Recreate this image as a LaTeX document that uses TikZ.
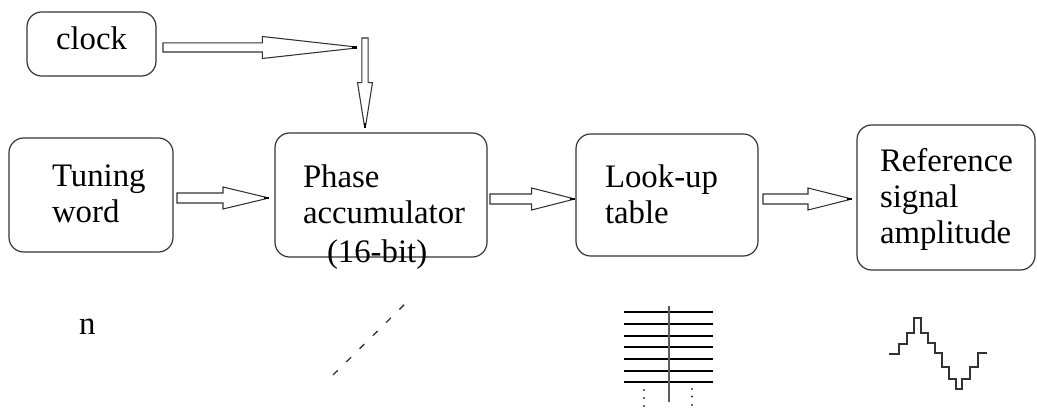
\documentclass[tikz,border=0pt]{standalone}
\usepackage{fontspec}
\setmainfont{Liberation Serif}
\newfontfamily\tnr{Liberation Serif}
\usetikzlibrary{calc}
\definecolor{edge}{HTML}{333333}
\tikzset{
  box/.style={draw=edge, line width=0.9pt, rounded corners=11pt, inner sep=0pt, outer sep=0pt},
  lbl/.style={inner sep=0pt, outer sep=0pt, align=left, font=\tnr\fontsize{24.6}{27}\selectfont},
  blk/.style={draw=edge, line width=0.8pt, fill=white, line join=miter},
  tipl/.style={draw=black, line width=1.6pt},
}
\newcommand\harr[5]{%
  \draw[blk] let \p1=#1, \p2=#2 in
    (\x1,\y1+#4) -- (\x2-#3,\y1+#4) -- (\x2-#3,\y1+#5) -- (\x2-2.5pt,\y1+0.6pt)
    -- (\x2-2.5pt,\y1-0.6pt) -- (\x2-#3,\y1-#5) -- (\x2-#3,\y1-#4) -- (\x1,\y1-#4) -- cycle;
  \draw[tipl] let \p1=#1, \p2=#2 in (\x2-4pt,\y1) -- (\x2,\y1);}
\newcommand\varr[5]{%
  \draw[blk] let \p1=#1, \p2=#2 in
    (\x1-#4,\y1) -- (\x1-#4,\y2+#3) -- (\x1-#5,\y2+#3) -- (\x1-0.6pt,\y2+2.5pt)
    -- (\x1+0.6pt,\y2+2.5pt) -- (\x1+#5,\y2+#3) -- (\x1+#4,\y2+#3) -- (\x1+#4,\y1) -- cycle;
  \draw[tipl] let \p1=#1, \p2=#2 in (\x1,\y2+4pt) -- (\x1,\y2);}
\begin{document}
\begin{tikzpicture}[x=0.75pt, y=-0.75pt]
\useasboundingbox (0,0) rectangle (1037,410);
% boxes
\node[box, minimum width=96.75pt, minimum height=48pt] (clk) at (91.5,44) {};
\node[box, minimum width=123pt, minimum height=85.5pt] (tw) at (91,195) {};
\node[box, minimum width=159pt, minimum height=93pt] (pa) at (381,195) {};
\node[box, minimum width=136.5pt, minimum height=91.5pt] (lu) at (667,195) {};
\node[box, minimum width=133.5pt, minimum height=108.75pt] (rs) at (946,197.5) {};
% texts
\node[lbl, anchor=base west] (tclk) at (56,50) {clock};
\node[lbl, anchor=north west] (ttw) at (52,165) {Tuning\\word};
\node[lbl, anchor=north west] (tpa) at (303,165) {Phase\\accumulator};
\node[lbl, anchor=base west] (tbit) at (327,262) {(16-bit)};
\node[lbl, anchor=north west] (tlu) at (605,165) {Look-up\\table};
\node[lbl, anchor=north west] (trs) at (880,148) {Reference\\signal\\amplitude};
\node[lbl, anchor=base west] (tn) at (79,334) {n};
% arrows
\coordinate (cj) at (357,47.5);
\coordinate (vt) at (365,38);
\harr{($(clk.east)+(7,3.5)$)}{(cj)}{71pt}{3.4pt}{8.25pt}
\varr{(vt)}{($(pa.north)+(-16,-5)$)}{34pt}{2.4pt}{5.6pt}
\harr{($(tw.east)+(4,3)$)}{($(pa.west)+(-6,3)$)}{34.5pt}{3.75pt}{8.25pt}
\harr{($(pa.east)+(3,4)$)}{($(lu.west)+(-1,4)$)}{32.5pt}{3.75pt}{8.25pt}
\harr{($(lu.east)+(5,4)$)}{($(rs.west)+(-5,1.5)$)}{33pt}{3.75pt}{8.25pt}
% dashed line
\coordinate (d1) at (333,375);
\coordinate (d2) at (410,299);
\draw[edge, line width=1pt, dash pattern=on 5pt off 9pt] (d1) -- (d2);
% table
\foreach \i in {0,...,6} {
  \draw[black, line width=1.5pt] (624,{312.3+11.67*\i}) -- (713,{312.3+11.67*\i});
}
\draw[edge!80, line width=1.5pt] (669,306) -- (669,402);
\foreach \p in {(644,390),(644,398),(644,406),(692,389),(692,396.5),(692,405)} {
  \fill[edge] \p circle (0.8pt);
}
% staircase
\draw[edge, line width=1.5pt, line join=miter]
  (889,354) -- (899.3,354) -- (899.3,344.3) -- (907.3,344.3) -- (907.3,333.3)
  -- (914.3,333.3) -- (914.3,317.7) -- (921,317.7) -- (921,333.3) -- (928.3,333.3)
  -- (928.3,342.7) -- (935,342.7) -- (935,352.7) -- (941.7,352.7) -- (941.7,366.7)
  -- (949,366.7) -- (949,378.7) -- (955.7,378.7) -- (955.7,389.3) -- (961.7,389.3)
  -- (961.7,378.7) -- (970,378.7) -- (970,366.7) -- (977.7,366.7) -- (977.7,352.7)
  -- (986.7,352.7);
\end{tikzpicture}
\end{document}
